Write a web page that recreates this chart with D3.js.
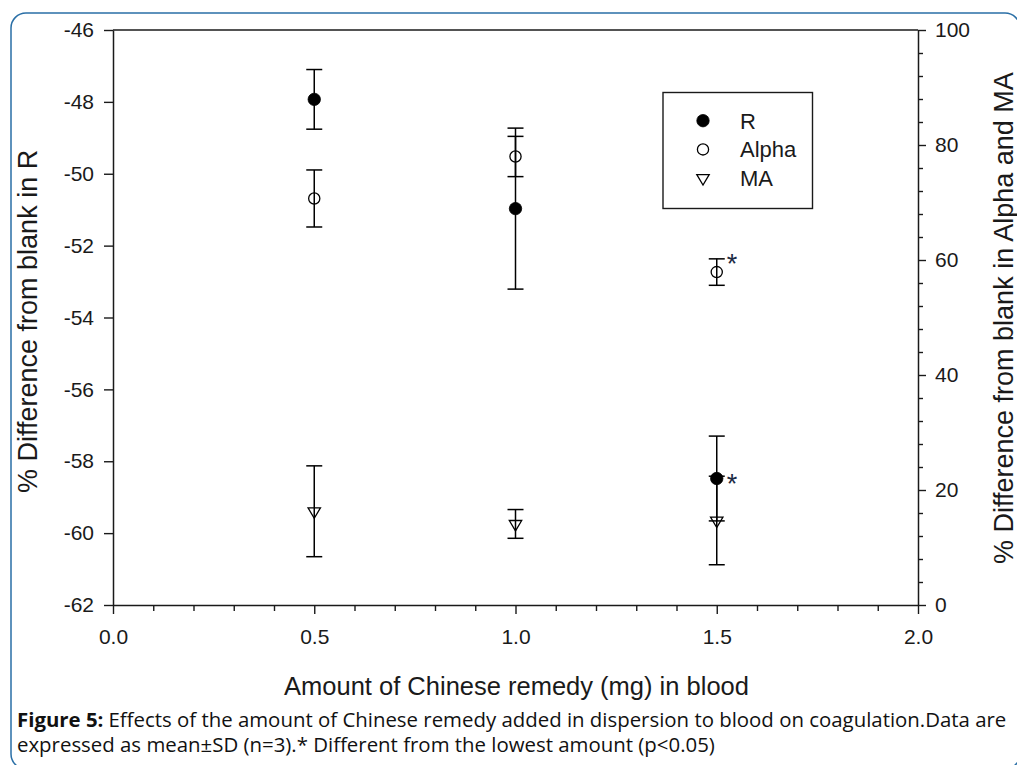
<!DOCTYPE html>
<html>
<head>
<meta charset="utf-8">
<script src="https://cdn.jsdelivr.net/npm/d3@7"></script>
<style>
  html, body { margin: 0; padding: 0; background: #fff; }
  svg { display: block; }
</style>
</head>
<body>
<svg id="chart" width="1017" height="765"></svg>
<script>
// ---- data ----
const doses = [0.5, 1.0, 1.5];
const rMean = [-47.93, -50.97, -58.48];
const rSD = [0.83, 2.24, 1.18];
const alphaMean = [70.7, 78.0, 57.9];
const alphaSD = [4.96, 3.5, 2.3];
const maMean = [16.3, 14.1, 14.7];
const maSD = [7.9, 2.5, 7.7];
const rSignificant = [false, false, true];
const alphaSignificant = [false, false, true];

const xTicks = [0.0, 0.5, 1.0, 1.5, 2.0];
const leftTicks = [-46, -48, -50, -52, -54, -56, -58, -60, -62];
const rightTicks = [0, 20, 40, 60, 80, 100];
const legendLabels = ["R", "Alpha", "MA"];

const xTitle = "Amount of Chinese remedy (mg) in blood";
const leftTitle = "% Difference from blank in R";
const rightTitle = "% Difference from blank in Alpha and MA";
const captionBold = "Figure 5:";
const captionLine1 = "Effects of the amount of Chinese remedy added in dispersion to blood on coagulation.Data are";
const captionLine2 = "expressed as mean\u00B1SD (n=3).* Different from the lowest amount (p<0.05)";

// ---- layout ----
const svg = d3.select("#chart");
const L = 113, R = 918, T = 30, B = 605;
const FONT = "'Liberation Sans', Arial, sans-serif";
const INK = "#1a1a1a";

const x = d3.scaleLinear().domain([0, 2]).range([L, R]);
const yL = d3.scaleLinear().domain([-62, -46]).range([B, T]);
const yR = d3.scaleLinear().domain([0, 100]).range([B, T]);

// frame border
svg.append("rect")
  .attr("x", 11).attr("y", 13).attr("width", 1009).attr("height", 756)
  .attr("rx", 15).attr("ry", 15)
  .attr("fill", "none").attr("stroke", "#2a6fa6").attr("stroke-width", 1.5);

// top line of plot box
svg.append("line").attr("x1", L).attr("x2", R).attr("y1", T).attr("y2", T)
  .attr("stroke", INK).attr("stroke-width", 1.5);

function styleAxis(g) {
  g.select(".domain").attr("stroke", INK).attr("stroke-width", 1.5);
  g.selectAll(".tick line").attr("stroke", INK).attr("stroke-width", 1.4);
  g.selectAll(".tick text").attr("fill", INK).style("font-family", FONT).style("font-size", "21px");
}

// bottom axis: minor ticks
const xMinor = d3.range(1, 20).map(i => i / 10).filter(v => Math.abs(v * 2 - Math.round(v * 2)) > 1e-9);
svg.append("g").attr("transform", `translate(0,${B})`)
  .call(d3.axisBottom(x).tickValues(xMinor).tickSize(6).tickFormat(""))
  .call(g => { g.select(".domain").remove(); g.selectAll(".tick line").attr("stroke", INK).attr("stroke-width", 1.4); });
svg.append("g").attr("transform", `translate(0,${B})`)
  .call(d3.axisBottom(x).tickValues(xTicks).tickSize(9).tickSizeOuter(0).tickPadding(15).tickFormat(d => d.toFixed(1)))
  .call(styleAxis);

// left axis
svg.append("g").attr("transform", `translate(${L},0)`)
  .call(d3.axisLeft(yL).tickValues(leftTicks).tickSize(9).tickSizeOuter(0).tickPadding(10).tickFormat(d => String(d)))
  .call(styleAxis);

// right axis: minor ticks every 4
const rMinor = d3.range(0, 101, 4).filter(v => v % 20 !== 0);
svg.append("g").attr("transform", `translate(${R},0)`)
  .call(d3.axisRight(yR).tickValues(rMinor).tickSize(5).tickFormat(""))
  .call(g => { g.select(".domain").remove(); g.selectAll(".tick line").attr("stroke", INK).attr("stroke-width", 1.4); });
svg.append("g").attr("transform", `translate(${R},0)`)
  .call(d3.axisRight(yR).tickValues(rightTicks).tickSize(8).tickSizeOuter(0).tickPadding(9).tickFormat(d => String(d)))
  .call(styleAxis);

// titles
svg.append("text").attr("x", (L + R) / 2 + 1).attr("y", 695)
  .attr("text-anchor", "middle").attr("fill", INK)
  .style("font-family", FONT).style("font-size", "25.5px").text(xTitle);
svg.append("text").attr("transform", "translate(37,493) rotate(-90)")
  .attr("text-anchor", "start").attr("fill", INK)
  .style("font-family", FONT).style("font-size", "27px").text(leftTitle);
svg.append("text").attr("transform", "translate(1013,564) rotate(-90)")
  .attr("text-anchor", "start").attr("fill", INK)
  .style("font-family", FONT).style("font-size", "27px").text(rightTitle);

// ---- series ----
const triPath = "M-6.2,-3.4L6.2,-3.4L0,7Z";
const series = [
  { name: "R", mean: rMean, sd: rSD, y: yL, sig: rSignificant, kind: "filled", starDy: 9 },
  { name: "Alpha", mean: alphaMean, sd: alphaSD, y: yR, sig: alphaSignificant, kind: "open", starDy: -4 },
  { name: "MA", mean: maMean, sd: maSD, y: yR, sig: [false, false, false], kind: "tri", starDy: 0 }
];

function drawMarker(g, kind) {
  if (kind === "filled") {
    g.append("circle").attr("r", 6.2).attr("fill", "#000").attr("stroke", "#000").attr("stroke-width", 0.8);
  } else if (kind === "open") {
    g.append("circle").attr("r", 5.6).attr("fill", "none").attr("stroke", "#000").attr("stroke-width", 1.3);
  } else {
    g.append("path").attr("d", triPath).attr("fill", "none").attr("stroke", "#000").attr("stroke-width", 1.3);
  }
}

series.forEach(s => {
  const g = svg.append("g");
  doses.forEach((d, i) => {
    const cx = x(d), cy = s.y(s.mean[i]);
    const y1 = s.y(s.mean[i] + s.sd[i]), y2 = s.y(s.mean[i] - s.sd[i]);
    g.append("line").attr("x1", cx).attr("x2", cx).attr("y1", y1).attr("y2", y2)
      .attr("stroke", "#000").attr("stroke-width", 1.5);
    [y1, y2].forEach(yy => g.append("line").attr("x1", cx - 8).attr("x2", cx + 8).attr("y1", yy).attr("y2", yy)
      .attr("stroke", "#000").attr("stroke-width", 1.5));
    const m = g.append("g").attr("transform", `translate(${cx},${cy})`);
    drawMarker(m, s.kind);
    if (s.sig[i]) {
      g.append("text").attr("x", cx + 10).attr("y", cy + s.starDy + 5)
        .attr("fill", "#1c2a44").style("font-family", FONT).style("font-size", "27px").text("*");
    }
  });
});

// ---- legend ----
const lg = svg.append("g");
lg.append("rect").attr("x", 663).attr("y", 92.5).attr("width", 149.5).attr("height", 116)
  .attr("fill", "#fff").attr("stroke", INK).attr("stroke-width", 1.4);
const legendKinds = ["filled", "open", "tri"];
legendLabels.forEach((lab, i) => {
  const cy = 120.7 + i * 28.7;
  const m = lg.append("g").attr("transform", `translate(703,${cy})`);
  drawMarker(m, legendKinds[i]);
  lg.append("text").attr("x", 740).attr("y", cy + 8).attr("fill", INK)
    .style("font-family", FONT).style("font-size", "22px").text(lab);
});

// ---- caption ----
const cap = svg.append("g").style("font-family", "'Open Sans', sans-serif").style("font-size", "20.4px").attr("fill", "#111");
const tb = cap.append("text").attr("x", 17).attr("y", 727).attr("font-weight", "bold").text(captionBold);
const bw = tb.node().getComputedTextLength();
cap.append("text").attr("x", 17 + bw + 5).attr("y", 727).text(captionLine1);
cap.append("text").attr("x", 17).attr("y", 752).text(captionLine2);
</script>
</body>
</html>
